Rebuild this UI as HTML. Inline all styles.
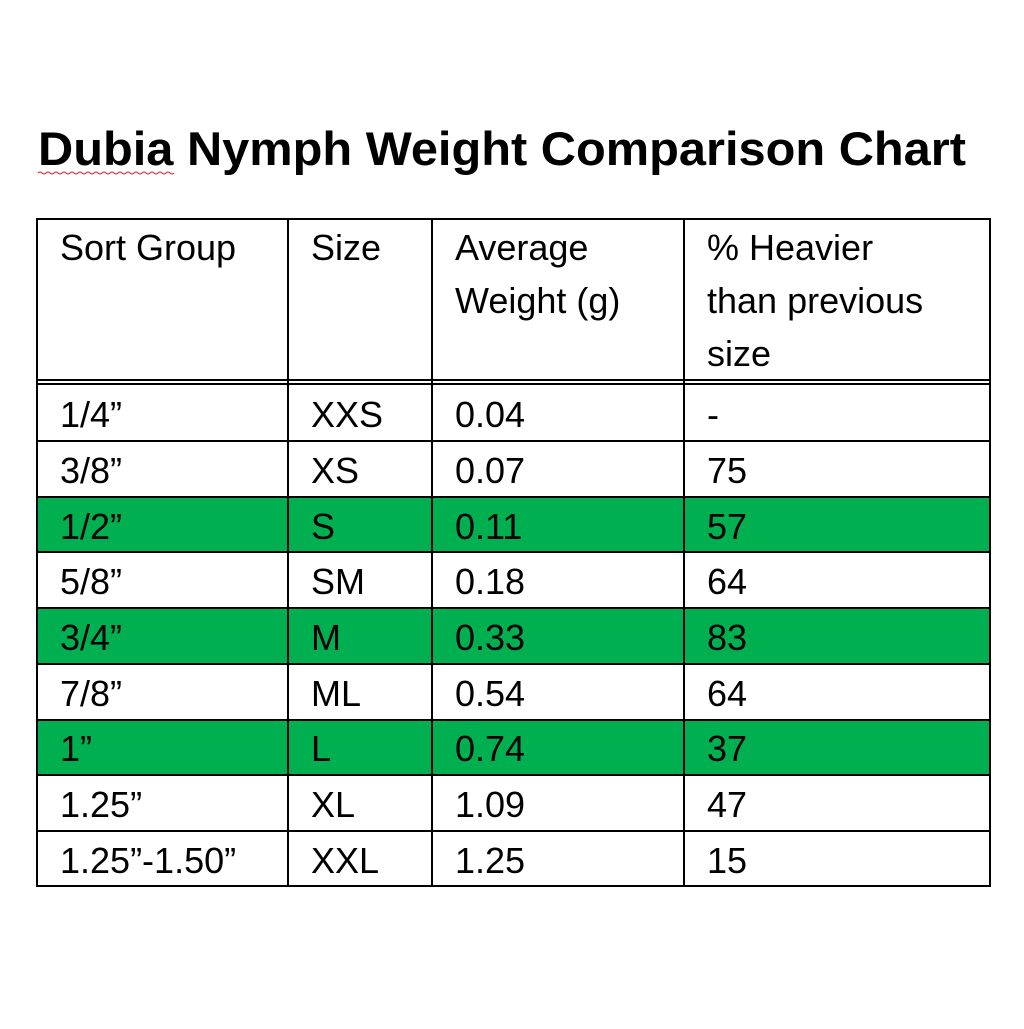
<!DOCTYPE html>
<html><head><meta charset="utf-8"><style>html,body{margin:0;padding:0;background:#fff}</style></head>
<body>
<svg width="1024" height="1024" viewBox="0 0 1024 1024" xmlns="http://www.w3.org/2000/svg" font-family="Liberation Sans, sans-serif">
<rect width="1024" height="1024" fill="#fff"/>
<text x="38" y="165" font-size="47" font-weight="bold" textLength="928" lengthAdjust="spacingAndGlyphs">Dubia Nymph Weight Comparison Chart</text>
<path d="M38 173 q2 -2 4 0 t4 0 t4 0 t4 0 t4 0 t4 0 t4 0 t4 0 t4 0 t4 0 t4 0 t4 0 t4 0 t4 0 t4 0 t4 0 t4 0 t4 0 t4 0 t4 0 t4 0 t4 0 t4 0 t4 0 t4 0 t4 0 t4 0 t4 0 t4 0 t4 0 t4 0 t4 0 t4 0 t4 0" stroke="#e02020" stroke-width="1" fill="none"/>
<rect x="37" y="497" width="953" height="55" fill="#00b050"/>
<rect x="37" y="608" width="953" height="56" fill="#00b050"/>
<rect x="37" y="720" width="953" height="55" fill="#00b050"/>
<g stroke="#000" stroke-width="2" fill="none">
<rect x="37" y="219" width="953" height="667"/>
<line x1="37" y1="380" x2="990" y2="380"/>
<line x1="37" y1="384" x2="990" y2="384"/>
<line x1="288" y1="219" x2="288" y2="886"/>
<line x1="432" y1="219" x2="432" y2="886"/>
<line x1="684" y1="219" x2="684" y2="886"/>
<line x1="37" y1="441" x2="990" y2="441"/>
<line x1="37" y1="497" x2="990" y2="497"/>
<line x1="37" y1="552" x2="990" y2="552"/>
<line x1="37" y1="608" x2="990" y2="608"/>
<line x1="37" y1="664" x2="990" y2="664"/>
<line x1="37" y1="720" x2="990" y2="720"/>
<line x1="37" y1="775" x2="990" y2="775"/>
<line x1="37" y1="831" x2="990" y2="831"/>
</g>
<g font-size="36" fill="#000">
<text x="60" y="260">Sort Group</text>
<text x="311" y="260">Size</text>
<text x="455" y="260">Average</text>
<text x="455" y="313">Weight (g)</text>
<text x="707" y="260">% Heavier</text>
<text x="707" y="313">than previous</text>
<text x="707" y="366">size</text>
</g>
<g font-size="36" fill="#000">
<text x="60" y="427">1/4”</text><text x="311" y="427">XXS</text><text x="455" y="427">0.04</text><text x="707" y="427">-</text>
<text x="60" y="483">3/8”</text><text x="311" y="483">XS</text><text x="455" y="483">0.07</text><text x="707" y="483">75</text>
<text x="60" y="539">1/2”</text><text x="311" y="539">S</text><text x="455" y="539">0.11</text><text x="707" y="539">57</text>
<text x="60" y="594">5/8”</text><text x="311" y="594">SM</text><text x="455" y="594">0.18</text><text x="707" y="594">64</text>
<text x="60" y="650">3/4”</text><text x="311" y="650">M</text><text x="455" y="650">0.33</text><text x="707" y="650">83</text>
<text x="60" y="706">7/8”</text><text x="311" y="706">ML</text><text x="455" y="706">0.54</text><text x="707" y="706">64</text>
<text x="60" y="761">1”</text><text x="311" y="761">L</text><text x="455" y="761">0.74</text><text x="707" y="761">37</text>
<text x="60" y="817">1.25”</text><text x="311" y="817">XL</text><text x="455" y="817">1.09</text><text x="707" y="817">47</text>
<text x="60" y="873">1.25”-1.50”</text><text x="311" y="873">XXL</text><text x="455" y="873">1.25</text><text x="707" y="873">15</text>
</g>
</svg>
</body></html>
